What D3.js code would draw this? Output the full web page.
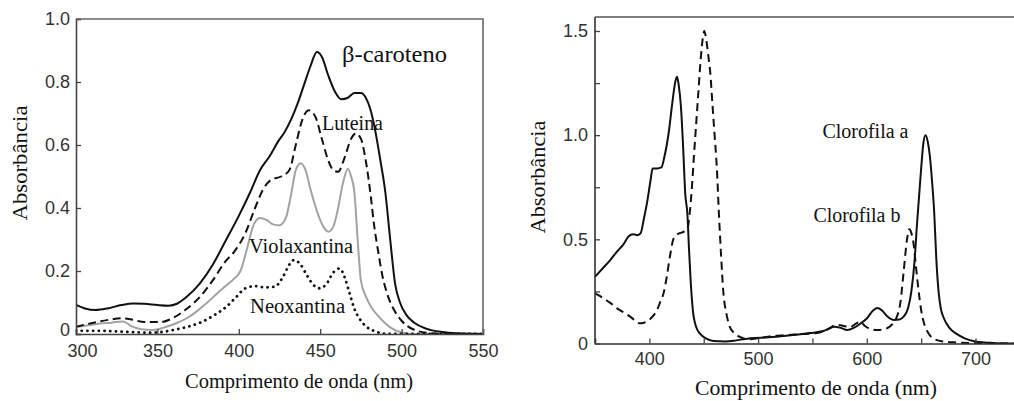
<!DOCTYPE html>
<html>
<head>
<meta charset="utf-8">
<script src="https://cdn.jsdelivr.net/npm/d3@7"></script>
<style>
  body { margin: 0; background: #fff; }
  .tick text { font-family: "Liberation Sans", Arial, sans-serif; font-size: 18px; fill: #333; }
  .lbl { font-family: "Liberation Serif", "Times New Roman", serif; fill: #111; }
</style>
</head>
<body>
<svg width="1014" height="401"></svg>
<script>
// 数据：左图 类胡萝卜素 (comprimento de onda, absorbância)
const betaCaroteno = [[300,0.092],[305,0.082],[312,0.076],[320,0.082],[328,0.092],[335,0.097],[342,0.096],[350,0.092],[357,0.09],[362,0.096],[368,0.118],[376,0.16],[384,0.22],[392,0.297],[400,0.375],[407,0.45],[413,0.52],[419,0.565],[424,0.61],[428,0.64],[432,0.68],[436,0.73],[440,0.79],[444,0.85],[448,0.895],[451,0.88],[455,0.82],[459,0.77],[463,0.745],[467,0.75],[471,0.765],[475,0.765],[478,0.75],[481,0.71],[484,0.64],[487,0.55],[490,0.45],[493,0.3],[496,0.16],[499,0.1],[503,0.06],[508,0.035],[515,0.017],[525,0.006],[535,0.002],[550,0]];
const luteina = [[300,0.023],[310,0.035],[320,0.045],[328,0.05],[335,0.045],[342,0.038],[352,0.038],[360,0.052],[368,0.08],[376,0.117],[384,0.17],[392,0.232],[397,0.26],[404,0.32],[410,0.4],[415,0.46],[420,0.49],[426,0.5],[431,0.52],[435,0.6],[439,0.68],[443,0.71],[447,0.69],[451,0.62],[455,0.55],[458,0.52],[461,0.515],[465,0.56],[469,0.62],[472,0.637],[475,0.62],[478,0.55],[481,0.44],[483,0.35],[486,0.25],[488,0.19],[491,0.13],[495,0.08],[500,0.042],[507,0.015],[517,0.003],[530,0],[550,0]];
const violaxantina = [[300,0.022],[308,0.028],[315,0.033],[322,0.036],[329,0.04],[334,0.025],[340,0.015],[347,0.013],[355,0.022],[362,0.035],[368,0.05],[375,0.075],[380,0.097],[387,0.13],[393,0.157],[397,0.175],[401,0.2],[405,0.27],[409,0.345],[413,0.368],[417,0.362],[421,0.348],[425,0.345],[429,0.37],[432,0.44],[435,0.52],[438,0.542],[441,0.52],[444,0.46],[448,0.39],[452,0.34],[455,0.325],[458,0.34],[461,0.4],[464,0.48],[467,0.525],[469,0.5],[471,0.45],[473,0.3],[475,0.17],[478,0.12],[482,0.08],[486,0.055],[492,0.025],[500,0.005],[510,0],[550,0]];
const neoxantina = [[300,0.01],[315,0.01],[330,0.007],[345,0.004],[355,0.008],[362,0.015],[370,0.025],[378,0.04],[385,0.06],[392,0.085],[398,0.115],[404,0.145],[410,0.152],[416,0.148],[422,0.15],[427,0.18],[431,0.22],[434,0.235],[438,0.22],[442,0.185],[446,0.155],[450,0.145],[454,0.16],[458,0.195],[462,0.208],[465,0.18],[468,0.13],[471,0.08],[474,0.05],[478,0.025],[484,0.008],[492,0],[550,0]];

// 数据：右图 叶绿素
const clorofilaA = [[350,0.32],[357,0.36],[364,0.4],[370,0.44],[376,0.475],[381,0.515],[385,0.525],[389,0.52],[392,0.53],[395,0.6],[398,0.68],[401,0.78],[403,0.84],[407,0.84],[411,0.845],[414,0.9],[418,1.02],[421,1.15],[424,1.26],[425.5,1.28],[427,1.24],[429,1.14],[431,0.95],[433,0.72],[435,0.62],[436.5,0.45],[438,0.3],[440,0.16],[443,0.08],[447,0.045],[452,0.025],[459,0.012],[470,0.01],[480,0.015],[493,0.025],[510,0.03],[530,0.04],[548,0.05],[560,0.06],[570,0.08],[576,0.075],[582,0.065],[588,0.075],[594,0.095],[600,0.12],[606,0.16],[610,0.17],[614,0.158],[619,0.13],[625,0.113],[630,0.115],[634,0.13],[638,0.17],[641,0.25],[644,0.4],[646,0.56],[648,0.7],[650,0.84],[652,0.96],[654,1.0],[656,0.97],[658,0.9],[660,0.78],[662,0.63],[664,0.4],[666,0.25],[668,0.17],[671,0.12],[676,0.075],[683,0.045],[690,0.025],[700,0.01],[715,0.003],[740,0]];
const clorofilaB = [[350,0.24],[357,0.22],[364,0.195],[370,0.17],[376,0.15],[382,0.13],[387,0.11],[391,0.097],[395,0.1],[399,0.11],[403,0.13],[407,0.16],[410,0.2],[413,0.24],[416,0.32],[419,0.42],[422,0.5],[426,0.525],[431,0.535],[435,0.55],[437,0.62],[439,0.74],[441,0.9],[443,1.05],[445,1.2],[447,1.35],[449,1.46],[450.5,1.5],[452,1.47],[454,1.39],[456,1.3],[458,1.15],[460,1.0],[462,0.85],[464,0.62],[466,0.42],[468,0.25],[471,0.14],[474,0.08],[478,0.05],[484,0.03],[490,0.02],[500,0.025],[512,0.035],[524,0.04],[540,0.045],[554,0.05],[565,0.07],[572,0.09],[578,0.085],[585,0.08],[590,0.095],[594,0.105],[598,0.085],[603,0.07],[610,0.065],[617,0.07],[623,0.09],[627,0.12],[631,0.2],[634,0.35],[637,0.5],[639,0.548],[641,0.53],[643,0.48],[645,0.38],[647.5,0.26],[650,0.16],[652.5,0.1],[656,0.055],[661,0.025],[670,0.01],[683,0.005],[700,0.002],[740,0]];

// 刻度
const leftXTicks = [300, 350, 400, 450, 500, 550];
const leftYTicks = [0, 0.2, 0.4, 0.6, 0.8, 1.0];
const rightXTicks = [400, 450, 500, 550, 600, 650, 700];
const rightXLabels = [400, 500, 600, 700];
const rightYTicks = [0, 0.25, 0.5, 0.75, 1.0, 1.25, 1.5];
const rightYLabels = [0, 0.5, 1.0, 1.5];

var svg = d3.select('svg');

// ---------- 左图 ----------
const x1 = d3.scaleLinear().domain([300, 550]).range([76, 483]);
const y1 = d3.scaleLinear().domain([0, 1]).range([334, 19]);

svg.append('defs').append('clipPath').attr('id', 'clip1')
  .append('rect').attr('x', 76).attr('y', 19).attr('width', 407).attr('height', 315);

const line1 = d3.line().x(d => x1(d[0])).y(d => y1(d[1])).curve(d3.curveMonotoneX);

var g1 = svg.append('g').attr('clip-path', 'url(#clip1)');
g1.append('path').datum(violaxantina).attr('d', line1)
  .attr('fill', 'none').attr('stroke', '#a3a3a3').attr('stroke-width', 2);
g1.append('path').datum(neoxantina).attr('d', line1)
  .attr('fill', 'none').attr('stroke', '#111').attr('stroke-width', 2.8)
  .attr('stroke-dasharray', '0.1 5.6').attr('stroke-linecap', 'round');
g1.append('path').datum(luteina).attr('d', line1)
  .attr('fill', 'none').attr('stroke', '#111').attr('stroke-width', 2)
  .attr('stroke-dasharray', '8 4.5');
g1.append('path').datum(betaCaroteno).attr('d', line1)
  .attr('fill', 'none').attr('stroke', '#111').attr('stroke-width', 2);

// 坐标轴（刻度朝内）
var ax1 = svg.append('g').attr('transform', 'translate(0,334)')
  .call(d3.axisBottom(x1).tickValues(leftXTicks).tickSize(-5).tickPadding(10).tickFormat(d3.format('d')))
  .call(g => g.select('.domain').attr('stroke', '#444').attr('stroke-width', 1.6));
// 300 稍右移，避开 y 轴的 0
ax1.selectAll('.tick text').filter(d => d === 300).attr('dx', 6);
var ay1 = svg.append('g').attr('transform', 'translate(76,0)')
  .call(d3.axisLeft(y1).tickValues(leftYTicks).tickSize(-5).tickPadding(6).tickFormat(d => d === 0 ? '0' : d3.format('.1f')(d)))
  .call(g => g.select('.domain').attr('stroke', '#444').attr('stroke-width', 1.6));
ay1.selectAll('.tick text').filter(d => d === 0).attr('dy', '0.1em');
svg.selectAll('.tick line').attr('stroke', '#444').attr('stroke-width', 1.3);
// 上边框和右边框
svg.append('path').attr('d', `M${x1(300)},${y1(1)}H${x1(550)}V${y1(0)}`)
  .attr('fill', 'none').attr('stroke', '#666').attr('stroke-width', 1.6);

// 文字标注
svg.append('text').attr('class', 'lbl').attr('x', x1(463.4)).attr('y', y1(0.863))
  .attr('font-size', 23).attr('textLength', 105).attr('lengthAdjust', 'spacingAndGlyphs').text('β-caroteno');
svg.append('text').attr('class', 'lbl').attr('x', x1(451.1)).attr('y', y1(0.648))
  .attr('font-size', 20).attr('textLength', 61).attr('lengthAdjust', 'spacingAndGlyphs').text('Luteina');
svg.append('text').attr('class', 'lbl').attr('x', x1(406.3)).attr('y', y1(0.257))
  .attr('font-size', 20).attr('textLength', 104).attr('lengthAdjust', 'spacingAndGlyphs').text('Violaxantina');
svg.append('text').attr('class', 'lbl').attr('x', x1(406.9)).attr('y', y1(0.067))
  .attr('font-size', 20).attr('textLength', 95).attr('lengthAdjust', 'spacingAndGlyphs').text('Neoxantina');

svg.append('text').attr('class', 'lbl').attr('x', 299).attr('y', 388)
  .attr('font-size', 20).attr('text-anchor', 'middle')
  .attr('textLength', 228).attr('lengthAdjust', 'spacingAndGlyphs').text('Comprimento de onda (nm)');
svg.append('text').attr('class', 'lbl').attr('transform', 'translate(27,163) rotate(-90)')
  .attr('font-size', 21).attr('text-anchor', 'middle')
  .attr('textLength', 115).attr('lengthAdjust', 'spacingAndGlyphs').text('Absorbância');

// ---------- 右图 ----------
const x2 = d3.scaleLinear().domain([350, 740]).range([595, 1019]);
const y2 = d3.scaleLinear().domain([0, 1.5]).range([343.5, 31]);

svg.select('defs').append('clipPath').attr('id', 'clip2')
  .append('rect').attr('x', 595).attr('y', 17).attr('width', 430).attr('height', 327);

const line2 = d3.line().x(d => x2(d[0])).y(d => y2(d[1])).curve(d3.curveMonotoneX);

var g2 = svg.append('g').attr('clip-path', 'url(#clip2)');
g2.append('path').datum(clorofilaB).attr('d', line2)
  .attr('fill', 'none').attr('stroke', '#111').attr('stroke-width', 2)
  .attr('stroke-dasharray', '8 5');
g2.append('path').datum(clorofilaA).attr('d', line2)
  .attr('fill', 'none').attr('stroke', '#111').attr('stroke-width', 2);

var ax2 = svg.append('g').attr('transform', 'translate(0,343.5)')
  .call(d3.axisBottom(x2).tickValues(rightXTicks).tickSize(-5).tickPadding(9)
    .tickFormat(d => rightXLabels.includes(d) ? d : ''))
  .call(g => g.select('.domain').attr('stroke', '#333').attr('stroke-width', 1.6));
var ay2 = svg.append('g').attr('transform', 'translate(595,0)')
  .call(d3.axisRight(y2).tickValues(rightYTicks).tickSize(5).tickPadding(-12)
    .tickFormat(d => rightYLabels.includes(d) ? (d === 0 ? '0' : d3.format('.1f')(d)) : ''))
  .call(g => g.select('.domain').remove());
ay2.selectAll('.tick text').attr('text-anchor', 'end').attr('x', -7);
svg.append('line').attr('x1', 595).attr('x2', 595).attr('y1', 17).attr('y2', 343.5)
  .attr('stroke', '#333').attr('stroke-width', 1.6);
svg.append('line').attr('x1', 595).attr('x2', 1014).attr('y1', 17).attr('y2', 17)
  .attr('stroke', '#555').attr('stroke-width', 1.6);
svg.selectAll('.tick line').attr('stroke', '#444').attr('stroke-width', 1.3);

svg.append('text').attr('class', 'lbl').attr('x', x2(559.2)).attr('y', y2(0.987))
  .attr('font-size', 20).attr('textLength', 86).attr('lengthAdjust', 'spacingAndGlyphs').text('Clorofila a');
svg.append('text').attr('class', 'lbl').attr('x', x2(550.9)).attr('y', y2(0.583))
  .attr('font-size', 20).attr('textLength', 87).attr('lengthAdjust', 'spacingAndGlyphs').text('Clorofila b');

svg.append('text').attr('class', 'lbl').attr('x', 816).attr('y', 395)
  .attr('font-size', 20).attr('text-anchor', 'middle')
  .attr('textLength', 242).attr('lengthAdjust', 'spacingAndGlyphs').text('Comprimento de onda (nm)');
svg.append('text').attr('class', 'lbl').attr('transform', 'translate(545,177) rotate(-90)')
  .attr('font-size', 21).attr('text-anchor', 'middle')
  .attr('textLength', 113).attr('lengthAdjust', 'spacingAndGlyphs').text('Absorbância');
</script>
</body>
</html>
